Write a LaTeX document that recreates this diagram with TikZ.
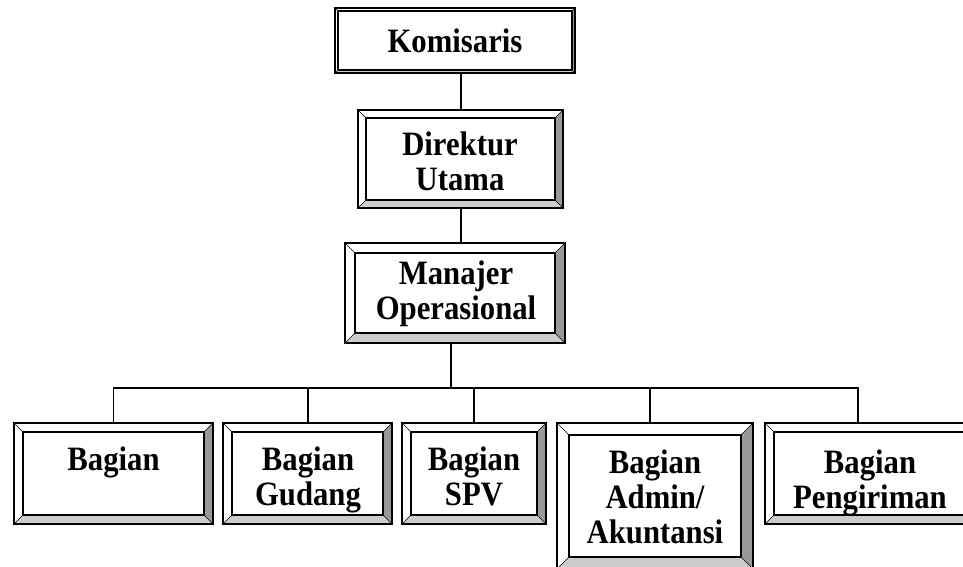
\documentclass[tikz,border=0pt]{standalone}
\usepackage{fontspec}
\setmainfont{Liberation Serif}
\newfontfamily\labelfont{Liberation Serif}[FakeStretch=0.9]
\usetikzlibrary{fit,calc}
\definecolor{bevright}{HTML}{999999}
\definecolor{bevbottom}{HTML}{CCCCCC}
\tikzset{
  outerline/.style={draw=black, line width=1.5pt},
  innerline/.style={draw=black, line width=0.8pt},
  diagline/.style={draw=black, line width=0.5pt},
  conn/.style={draw=black, line width=1pt},
  lbl/.style={font=\labelfont\fontsize{25.6}{26}\selectfont\bfseries, align=center, inner sep=0pt, text=black},
}
% name, x1, y1, x2, y2, bevel
\newcommand\bevbox[6]{%
  \fill[white] (#2,#3) rectangle (#4,#5);
  \fill[bevright] (#4,#3) -- (#4,#5) -- (#4-#6,#5-#6) -- (#4-#6,#3+#6) -- cycle;
  \fill[bevbottom] (#2,#5) -- (#4,#5) -- (#4-#6,#5-#6) -- (#2+#6,#5-#6) -- cycle;
  \draw[diagline] (#2,#3) -- (#2+#6,#3+#6);
  \draw[diagline] (#4,#3) -- (#4-#6,#3+#6);
  \draw[diagline] (#2,#5) -- (#2+#6,#5-#6);
  \draw[diagline] (#4,#5) -- (#4-#6,#5-#6);
  \draw[innerline] (#2+#6,#3+#6) rectangle (#4-#6,#5-#6);
  \draw[outerline] (#2,#3) rectangle (#4,#5);
  \coordinate (#1-nw) at (#2,#3);
  \coordinate (#1-se) at (#4,#5);
  \node[fit=(#1-nw)(#1-se), inner sep=0pt] (#1) {};
}
\begin{document}
\begin{tikzpicture}[x=0.75pt, y=-0.75pt]
\path[use as bounding box] (0,0) rectangle (963,567);
\clip (0,0) rectangle (963,567);

\bevbox{kom}{335}{8}{575}{73}{3}
\bevbox{dir}{358}{110}{563}{208}{8}
\bevbox{man}{345}{243}{565}{343}{10}
\bevbox{b1}{14}{423}{213}{524}{9}
\bevbox{b2}{223}{423}{392}{524}{9}
\bevbox{b3}{402}{423}{546}{524}{9}
\bevbox{b4}{557}{423}{753}{569}{12}
\bevbox{b5}{765}{423}{975}{524}{9}

% connectors
\coordinate (bus) at (451,388);
\draw[conn] ([xshift=4.5pt]kom.south) -- ([xshift=4.5pt]kom.south |- dir.north);
\draw[conn] ([xshift=4.5pt]kom.south |- dir.south) -- ([xshift=4.5pt]kom.south |- man.north);
\draw[conn] (bus |- man.south) -- (bus);
\draw[conn] (b1.north) |- (bus);
\draw[conn] (b5.north -| 858,0) |- (bus);
\draw[conn] (b2.north -| 308,0) -- (308,388);
\draw[conn] (b3.north) -- (b3.north |- bus);
\draw[conn] (b4.north -| 650,0) -- (650,388);

% labels
\node[lbl] (kom-t) at (455,41) {Komisaris};
\node[lbl] (dir-t) at (460,161) {Direktur\\Utama};
\node[lbl] (man-t) at (456,294) {Manajer\\Operasional};
\node[lbl, anchor=north] (b1-t) at (113.5,447) {Bagian};
\node[lbl, anchor=north] (b2-t) at (308,447) {Bagian\\Gudang};
\node[lbl, anchor=north] (b3-t) at (474,447) {Bagian\\SPV};
\node[lbl, anchor=north] (b4-t) at (655,450) {Bagian\\Admin/\\Akuntansi};
\node[lbl, anchor=north] (b5-t) at (870,450) {Bagian\\Pengiriman};
\end{tikzpicture}
\end{document}
